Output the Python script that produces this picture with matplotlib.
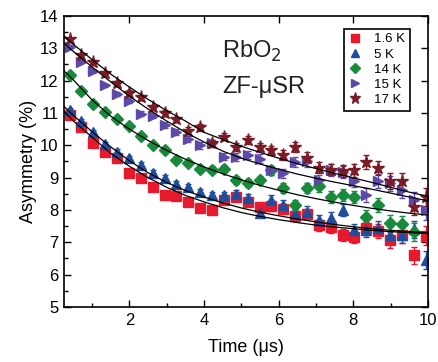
import numpy as np
import matplotlib
matplotlib.use('Agg')
import matplotlib.pyplot as plt
from matplotlib.ticker import MultipleLocator

plt.rcParams['font.family'] = ['Liberation Sans', 'DejaVu Sans']

# time bins (us)
t = [0.40, 0.71, 1.02, 1.34, 1.66, 1.99, 2.31, 2.62, 2.94, 3.26, 3.58,
     3.89, 4.21, 4.53, 4.85, 5.17, 5.49, 5.80, 6.12, 6.44, 6.75, 7.07,
     7.39, 7.71, 8.03, 8.35, 8.67, 8.99, 9.31, 9.62, 9.94]

a_16K = [10.93, 10.57, 10.08, 9.80, 9.60, 9.15, 9.00, 8.70, 8.45, 8.42, 8.25,
         8.05, 8.00, 8.30, 8.40, 8.25, 8.10, 8.12, 8.02, 7.80, 7.88, 7.53,
         7.48, 7.22, 7.17, 7.43, 7.35, 7.07, 7.22, 6.60, 7.20]
a_5K = [11.10, 10.75, 10.40, 10.05, 9.80, 9.60, 9.40, 9.15, 9.00, 8.80, 8.70,
        8.55, 8.45, 8.45, 8.50, 8.36, 7.92, 8.32, 8.15, 7.89, 7.95, 7.68,
        7.75, 8.00, 7.37, 7.37, 7.43, 7.22, 7.22, 7.40, 6.45]
a_14K = [12.17, 11.69, 11.28, 11.02, 10.82, 10.60, 10.30, 10.02, 9.85, 9.56, 9.45,
         9.28, 9.25, 9.28, 8.92, 8.84, 8.92, 9.23, 8.67, 8.15, 8.67, 8.74,
         8.40, 8.46, 8.40, 7.79, 8.15, 7.60, 7.56, 7.32, np.nan]
a_15K = [13.05, 12.59, 12.30, 11.85, 11.58, 11.38, 10.98, 10.92, 10.63, 10.40, 10.20,
         10.00, 10.06, 9.64, 9.64, 9.70, 9.59, 9.23, 9.13, 9.49, 9.50, 8.92,
         9.23, 9.18, 8.90, 8.46, 8.90, 8.82, 8.61, 8.30, 7.99]
a_17K = [13.28, 12.78, 12.59, 12.25, 11.93, 11.63, 11.48, 11.18, 11.00, 10.80, 10.45,
         10.55, 10.06, 10.26, 9.95, 10.16, 9.95, 9.85, 9.70, 9.95, 9.62, 9.30,
         9.25, 9.20, 9.23, 9.49, 9.30, 8.90, 8.90, 8.10, 8.40]

err = [0.05, 0.05, 0.06, 0.06, 0.07, 0.07, 0.08, 0.08, 0.09, 0.09, 0.10,
       0.10, 0.11, 0.11, 0.12, 0.12, 0.13, 0.14, 0.15, 0.15, 0.16, 0.17,
       0.18, 0.19, 0.20, 0.21, 0.22, 0.24, 0.25, 0.27, 0.29]

# fitted curves
t_fit = [0.25, 0.5, 1.0, 1.5, 2.0, 2.5, 3.0, 3.5, 4.0, 4.5, 5.0,
         5.5, 6.0, 6.5, 7.0, 7.5, 8.0, 8.5, 9.0, 9.5, 10.0]
fit_16K = [11.05, 10.75, 10.25, 9.75, 9.35, 9.00, 8.70, 8.45, 8.25, 8.07, 7.92,
           7.80, 7.70, 7.61, 7.53, 7.47, 7.42, 7.37, 7.33, 7.30, 7.27]
fit_5K = [11.20, 10.92, 10.42, 9.95, 9.52, 9.15, 8.85, 8.60, 8.40, 8.22, 8.06,
          7.93, 7.82, 7.72, 7.63, 7.55, 7.48, 7.42, 7.37, 7.33, 7.30]
fit_14K = [12.30, 12.02, 11.40, 10.90, 10.50, 10.15, 9.84, 9.57, 9.33, 9.12, 8.93,
           8.76, 8.61, 8.47, 8.35, 8.24, 8.14, 8.05, 7.97, 7.90, 7.84]
fit_15K = [13.15, 12.90, 12.42, 11.96, 11.52, 11.12, 10.75, 10.40, 10.10, 9.82, 9.60,
           9.42, 9.26, 9.11, 8.98, 8.86, 8.75, 8.64, 8.52, 8.40, 8.28]
fit_17K = [13.38, 13.12, 12.65, 12.20, 11.80, 11.42, 11.07, 10.75, 10.40, 10.18, 9.97,
           9.78, 9.60, 9.43, 9.28, 9.13, 8.99, 8.85, 8.70, 8.55, 8.42]

labels = ['1.6 K', '5 K', '14 K', '15 K', '17 K']
colors = ['#E8192C', '#1F4E9E', '#188A3C', '#5D4AA8', '#7A1B25']
markers = ['s', '^', 'D', '>', '*']
sizes = [6.5, 7.5, 6.5, 7.5, 9.5]
data = [a_16K, a_5K, a_14K, a_15K, a_17K]
fits = [fit_16K, fit_5K, fit_14K, fit_15K, fit_17K]

fig = plt.figure(figsize=(4.39, 3.62), dpi=100)
ax = fig.add_axes([0.146, 0.152, 0.829, 0.804])

for y, lab, c, m, ms in zip(data, labels, colors, markers, sizes):
    ax.errorbar(t, y, yerr=err, fmt=m, color=c, ms=ms, mec=c, ecolor=c,
                elinewidth=1.0, capsize=2.5, capthick=1.0, label=lab, zorder=2)

for f in fits:
    ax.plot(t_fit, f, color='black', lw=0.9, zorder=3)

ax.set_xlim(0.25, 10)
ax.set_ylim(5, 14)
ax.xaxis.set_major_locator(MultipleLocator(2))
ax.xaxis.set_minor_locator(MultipleLocator(1))
ax.yaxis.set_major_locator(MultipleLocator(1))
ax.yaxis.set_minor_locator(MultipleLocator(0.5))
ax.tick_params(which='major', direction='in', length=5, width=1.0, labelsize=12,
               top=True, right=True, pad=4)
ax.tick_params(which='minor', direction='in', length=3, width=1.0,
               top=False, right=False)
for s in ax.spines.values():
    s.set_linewidth(1.2)

ax.set_xlabel('Time (\u03bcs)', fontsize=13, labelpad=8)
ax.set_ylabel('Asymmetry (%)', fontsize=13, labelpad=2)

ax.text(222 / 439, 1 - 58 / 362, 'RbO$_2$', transform=fig.transFigure,
        fontsize=17, color='#222222')
ax.text(222 / 439, 1 - 93 / 362, 'ZF-\u03bcSR', transform=fig.transFigure,
        fontsize=17, color='#222222')

handles = []
for lab, c, m, ms in zip(labels, colors, markers, sizes):
    h, = ax.plot([], [], m, color=c, ms=ms * 0.85, label=lab)
    handles.append(h)
leg = ax.legend(handles=handles, loc='upper right', bbox_to_anchor=(0.96, 0.97),
                fontsize=9.5, frameon=True, fancybox=False, edgecolor='black',
                handlelength=1.0, handletextpad=0.9, labelspacing=0.22,
                borderpad=0.35, borderaxespad=0.3, framealpha=1)
leg.get_frame().set_linewidth(1.2)

fig.savefig('out.png', dpi=100)
